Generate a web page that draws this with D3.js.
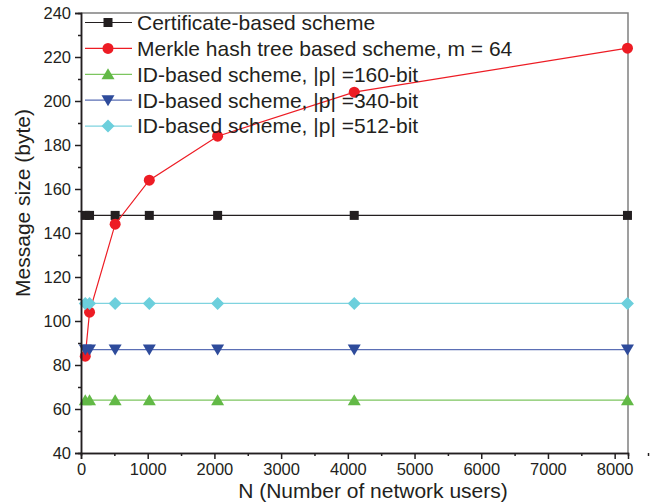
<!DOCTYPE html>
<html>
<head>
<meta charset="utf-8">
<script src="https://cdn.jsdelivr.net/npm/d3@7"></script>
<style>
  body { margin: 0; background: #fff; }
  text { font-family: Arial, "Liberation Sans", sans-serif; fill: #231f20; }
</style>
</head>
<body>
<div id="chart"></div>
<script>
// data
const nUsers = [64, 128, 512, 1024, 2048, 4096, 8192];
const certificate = [148, 148, 148, 148, 148, 148, 148];
const merkle = [84, 104, 144, 164, 184, 204, 224];
const id160 = [64, 64, 64, 64, 64, 64, 64];
const id340 = [87, 87, 87, 87, 87, 87, 87];
const id512 = [108, 108, 108, 108, 108, 108, 108];
const seriesNames = [
  "Certificate-based scheme",
  "Merkle hash tree based scheme, m = 64",
  "ID-based scheme, |p| =160-bit",
  "ID-based scheme, |p| =340-bit",
  "ID-based scheme, |p| =512-bit"
];
const xTicks = [0, 1000, 2000, 3000, 4000, 5000, 6000, 7000, 8000];
const yTicks = [40, 60, 80, 100, 120, 140, 160, 180, 200, 220, 240];

const width = 656, height = 504;
const margin = {top: 13, right: 28, bottom: 51, left: 81};
const w = width - margin.left - margin.right;
const h = height - margin.top - margin.bottom;

const svg = d3.select("#chart").append("svg")
  .attr("width", width)
  .attr("height", height);

const x = d3.scaleLinear().domain([0, 8200]).range([0, w]);
const y = d3.scaleLinear().domain([40, 240]).range([h, 0]);

const g = svg.append("g")
  .attr("transform", "translate(" + margin.left + "," + margin.top + ")");

// frame top / right
g.append("path")
  .attr("d", "M0,0H" + w + "V" + h)
  .attr("fill", "none")
  .attr("stroke", "#808080")
  .attr("stroke-width", 1.5);

const series = [
  {name: seriesNames[0], values: certificate, color: "#231f20", line: "#231f20", shape: "square"},
  {name: seriesNames[1], values: merkle, color: "#ed1c24", line: "#ed1c24", shape: "circle"},
  {name: seriesNames[2], values: id160, color: "#62b946", line: "#7cc55f", shape: "up"},
  {name: seriesNames[3], values: id340, color: "#2e4b9b", line: "#5b6fb5", shape: "down"},
  {name: seriesNames[4], values: id512, color: "#6ccfdc", line: "#7fd3df", shape: "diamond"}
];

function marker(sel, shape, color) {
  if (shape === "square") {
    sel.append("rect").attr("x", -4.5).attr("y", -4.5).attr("width", 9).attr("height", 9).attr("fill", color);
  } else if (shape === "circle") {
    sel.append("circle").attr("r", 5.5).attr("fill", color);
  } else if (shape === "up") {
    sel.append("path").attr("d", "M0,-6L6.5,5L-6.5,5Z").attr("fill", color);
  } else if (shape === "down") {
    sel.append("path").attr("d", "M0,6L6.5,-5L-6.5,-5Z").attr("fill", color);
  } else {
    sel.append("path").attr("d", "M0,-6.5L6.5,0L0,6.5L-6.5,0Z").attr("fill", color);
  }
}

const line = d3.line().x(d => x(d[0])).y(d => y(d[1]));

series.forEach(s => {
  const pts = nUsers.map((n, i) => [n, s.values[i]]);
  g.append("path")
    .datum(pts)
    .attr("fill", "none")
    .attr("stroke", s.line)
    .attr("stroke-width", 1.2)
    .attr("d", line);
  pts.forEach(p => {
    const m = g.append("g").attr("transform", "translate(" + x(p[0]) + "," + y(p[1]) + ")");
    marker(m, s.shape, s.color);
  });
});

// axes
const xAxis = g.append("g")
  .attr("transform", "translate(0," + h + ")")
  .call(d3.axisBottom(x).tickValues(xTicks).tickFormat(d3.format("d")).tickSize(6).tickPadding(4));
const xMinor = g.append("g")
  .attr("transform", "translate(0," + h + ")")
  .call(d3.axisBottom(x).tickValues(xTicks.map(t => t + 500)).tickSize(3).tickFormat(""));
const yAxis = g.append("g")
  .call(d3.axisLeft(y).tickValues(yTicks).tickSize(6).tickPadding(4));
const yMinor = g.append("g")
  .call(d3.axisLeft(y).tickValues(yTicks.slice(0, -1).map(t => t + 10)).tickSize(3).tickFormat(""));

[xAxis, xMinor, yAxis, yMinor].forEach(a => {
  a.select(".domain").attr("stroke", "#231f20").attr("stroke-width", 1.5);
  a.selectAll(".tick line").attr("stroke", "#231f20").attr("stroke-width", 1.5);
  a.selectAll(".tick text").attr("font-size", 16.5).style("fill", "#231f20");
});

// axis titles
svg.append("text")
  .attr("x", 373)
  .attr("y", 498)
  .attr("text-anchor", "middle")
  .attr("font-size", 21)
  .text("N (Number of network users)");

svg.append("text")
  .attr("transform", "translate(30,203) rotate(-90)")
  .attr("text-anchor", "middle")
  .attr("font-size", 21)
  .text("Message size (byte)");

// legend
const legend = g.append("g").attr("transform", "translate(0,9.5)");
series.forEach((s, i) => {
  const row = legend.append("g").attr("transform", "translate(0," + (i * 25.9) + ")");
  row.append("line")
    .attr("x1", 4).attr("x2", 51)
    .attr("stroke", s.line).attr("stroke-width", 1.2);
  const m = row.append("g").attr("transform", "translate(27,0)");
  marker(m, s.shape, s.color);
  row.append("text")
    .attr("x", 56)
    .attr("y", 0)
    .attr("dy", "0.35em")
    .attr("font-size", 21)
    .text(s.name);
});
</script>
</body>
</html>
